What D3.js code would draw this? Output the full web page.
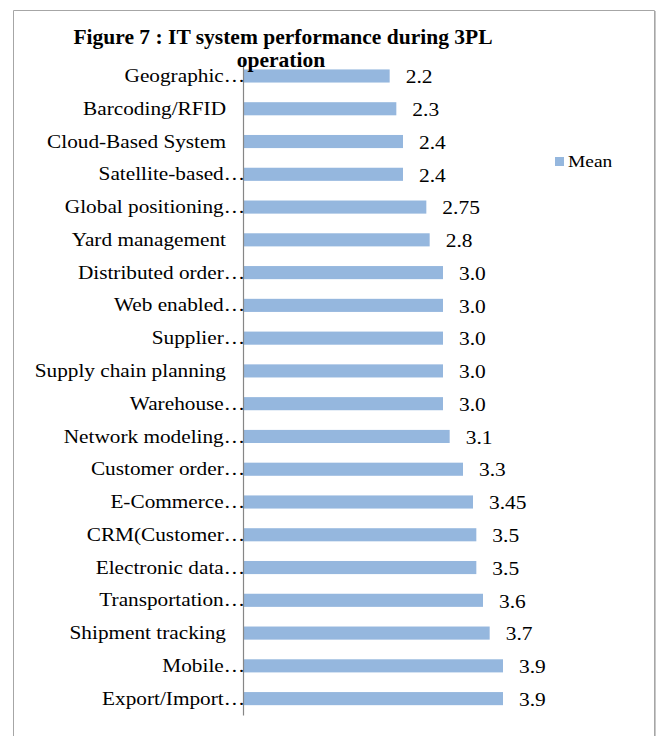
<!DOCTYPE html>
<html>
<head>
<meta charset="utf-8">
<script src="https://cdn.jsdelivr.net/npm/d3@7"></script>
<style>
  html, body { margin: 0; padding: 0; background: #fff; }
  svg { display: block; }
  text { font-family: "Liberation Serif", "Times New Roman", serif; fill: #000; }
</style>
</head>
<body>
<div id="chart"></div>
<script>
// IT systems rated during 3PL operation (mean scores)
const categories = [
  "Geographic…", "Barcoding/RFID", "Cloud-Based System", "Satellite-based…",
  "Global positioning…", "Yard management ", "Distributed order…", "Web enabled…",
  "Supplier…", "Supply chain planning ", "Warehouse…", "Network modeling…",
  "Customer order…", "E-Commerce…", "CRM(Customer…", "Electronic data…",
  "Transportation…", "Shipment tracking ", "Mobile…", "Export/Import…"
];
const meanValues = [
  2.2, 2.3, 2.4, 2.4, 2.75, 2.8, 3.0, 3.0, 3.0, 3.0,
  3.0, 3.1, 3.3, 3.45, 3.5, 3.5, 3.6, 3.7, 3.9, 3.9
];
const valueLabels = [
  "2.2", "2.3", "2.4", "2.4", "2.75", "2.8", "3.0", "3.0", "3.0", "3.0",
  "3.0", "3.1", "3.3", "3.45", "3.5", "3.5", "3.6", "3.7", "3.9", "3.9"
];
const seriesName = "Mean";
const chartTitle = ["Figure 7 : IT system performance during 3PL", "operation"];

const W = 659, H = 736;
const barColor = "#95b7de";
const svg = d3.select("#chart").append("svg").attr("width", W).attr("height", H);

// outer frame (runs past the bottom edge)
svg.append("path")
  .attr("d", `M13.5,${H + 5} V10.5 H654.5 V${H + 5}`)
  .attr("fill", "none").attr("stroke", "#a6a6a6").attr("stroke-width", 1);
svg.append("line")
  .attr("x1", 655.5).attr("x2", 655.5).attr("y1", 11).attr("y2", H + 5)
  .attr("stroke", "#c8c8c8").attr("stroke-width", 1);

const data = categories.map((c, i) => ({ cat: c, value: meanValues[i], label: valueLabels[i] }));

const x = d3.scaleLinear().domain([0, 6]).range([243, 643]);
const y = d3.scaleBand().domain(categories).range([59.6, 715])
  .paddingInner(0.6).paddingOuter(0.3);

// bars
svg.append("g").selectAll("rect").data(data).join("rect")
  .attr("x", x(0))
  .attr("y", d => y(d.cat))
  .attr("width", d => x(d.value) - x(0))
  .attr("height", y.bandwidth())
  .attr("fill", barColor);

// category axis; truncated names run up to the axis, full names leave a gap
const yAxis = d3.axisLeft(y).tickSize(0).tickPadding(2);
const gy = svg.append("g").attr("transform", `translate(${x(0)},0)`).call(yAxis);
gy.select(".domain").attr("stroke", "#868686").attr("stroke-width", 1.2);
gy.selectAll(".tick text")
  .style("font-family", '"Liberation Serif", "Times New Roman", serif')
  .style("font-size", "18.5px")
  .attr("fill", "#000")
  .attr("x", 0)
  .attr("dy", "0.33em")
  .attr("transform", d => `translate(${d.endsWith("…") ? 2 : -17},0) scale(1.15,1)`)
  .text(d => d.trim());

// value labels
svg.append("g").selectAll("text").data(data).join("text")
  .attr("transform", d => `translate(${x(d.value) + 16},${y(d.cat) + y.bandwidth() / 2}) scale(1.1,1)`)
  .attr("dy", "0.37em")
  .style("font-size", "19.5px")
  .text(d => d.label);

// title
svg.append("text")
  .attr("x", 283).attr("y", 44)
  .attr("text-anchor", "middle")
  .style("font-size", "21.5px").style("font-weight", "bold")
  .text(chartTitle[0]);
svg.append("text")
  .attr("x", 281).attr("y", 66.5)
  .attr("text-anchor", "middle")
  .style("font-size", "21.5px").style("font-weight", "bold")
  .text(chartTitle[1]);

// legend
const lg = svg.append("g").attr("transform", "translate(555,157)");
lg.append("rect").attr("width", 9).attr("height", 9).attr("fill", barColor);
lg.append("text").attr("transform", "translate(13,10) scale(1.18,1)")
  .style("font-size", "16.5px").text(seriesName);
</script>
</body>
</html>
